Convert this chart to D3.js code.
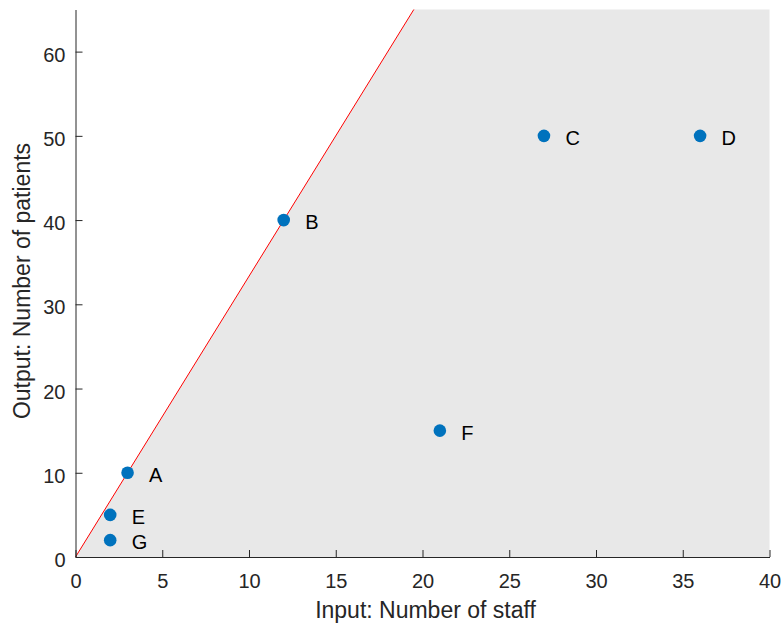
<!DOCTYPE html>
<html>
<head>
<meta charset="utf-8">
<script src="https://cdn.jsdelivr.net/npm/d3@7/dist/d3.min.js"></script>
<style>
  html, body { margin: 0; padding: 0; background: #fff; }
  svg { display: block; font-family: "Liberation Sans", Arial, Helvetica, sans-serif; }
</style>
</head>
<body>
<svg id="chart" width="784" height="631"></svg>
<script>
// Units: staff (input) vs patients (output)
const units    = ["A", "B", "C", "D", "E", "F", "G"];
const staff    = [3, 12, 27, 36, 2, 21, 2];
const patients = [10, 40, 50, 50, 5, 15, 2];

// Efficient frontier passes through the origin and unit B
const frontierUnit = "B";

const xTicks = [0, 5, 10, 15, 20, 25, 30, 35, 40];
const yTicks = [0, 10, 20, 30, 40, 50, 60];
const xDomain = [0, 40];
const yDomain = [0, 65];

const svg = d3.select("#chart");
const margin = { left: 75.5, right: 14.5, top: 9.5, bottom: 74 };
const W = 784, H = 631;

const x = d3.scaleLinear().domain(xDomain).range([margin.left, W - margin.right]);
const y = d3.scaleLinear().domain(yDomain).range([H - margin.bottom, margin.top]);

// Frontier slope from the reference unit
const fi = units.indexOf(frontierUnit);
const slope = patients[fi] / staff[fi];
const xTop = yDomain[1] / slope;

// Shaded feasible region below the frontier
const region = [
  [0, 0], [xTop, yDomain[1]], [xDomain[1], yDomain[1]], [xDomain[1], 0]
];
svg.append("path")
  .attr("d", d3.line().x(d => x(d[0])).y(d => y(d[1]))(region) + "Z")
  .attr("fill", "#e8e8e8");

// Frontier line
svg.append("line")
  .attr("x1", x(0)).attr("y1", y(0))
  .attr("x2", x(xTop)).attr("y2", y(yDomain[1]))
  .attr("stroke", "#ff0000").attr("stroke-width", 1);

// Axes with inward ticks
const axisColor = "#262626";
const xAxis = svg.append("g")
  .attr("transform", `translate(0,${y(0)})`)
  .call(d3.axisBottom(x).tickValues(xTicks).tickSizeInner(-7).tickSizeOuter(0).tickPadding(17));
const yAxis = svg.append("g")
  .attr("transform", `translate(${x(0)},0)`)
  .call(d3.axisLeft(y).tickValues(yTicks).tickSizeInner(-7).tickSizeOuter(0).tickPadding(10));

[xAxis, yAxis].forEach(g => {
  g.select(".domain").attr("stroke", axisColor).attr("stroke-width", 1);
  g.selectAll(".tick line").attr("stroke", axisColor).attr("stroke-width", 1);
  g.selectAll(".tick text")
    .attr("fill", axisColor)
    .style("font-size", "20px")
    .style("font-family", "'Liberation Sans', Arial, sans-serif");
});
xAxis.selectAll(".tick text").attr("dy", "0.71em");
yAxis.selectAll(".tick text").attr("dy", "0.48em");

// Data points
const data = units.map((u, i) => ({ u, sx: staff[i], py: patients[i] }));
svg.append("g").selectAll("circle")
  .data(data).join("circle")
  .attr("cx", d => x(d.sx))
  .attr("cy", d => y(d.py))
  .attr("r", 6.3)
  .attr("fill", "#0072bd");

// Point labels
svg.append("g").selectAll("text")
  .data(data).join("text")
  .attr("x", d => x(d.sx) + 21.5)
  .attr("y", d => y(d.py) + 2)
  .attr("dy", "0.36em")
  .attr("fill", "#000")
  .style("font-size", "20px")
  .text(d => d.u);

// Axis titles
svg.append("text")
  .attr("x", 425.5)
  .attr("y", 618)
  .attr("text-anchor", "middle")
  .attr("fill", axisColor)
  .style("font-size", "23px")
  .text("Input: Number of staff");

svg.append("text")
  .attr("transform", `translate(29.5,281) rotate(-90)`)
  .attr("text-anchor", "middle")
  .attr("fill", axisColor)
  .style("font-size", "23px")
  .text("Output: Number of patients");
</script>
</body>
</html>
